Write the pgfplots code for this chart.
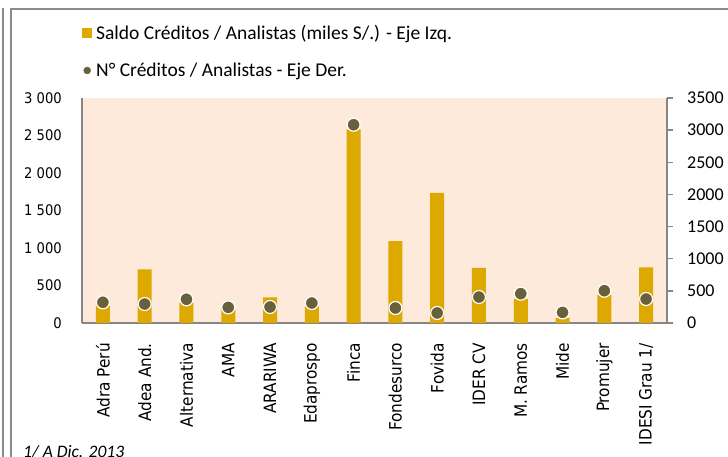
\documentclass[border=0pt]{standalone}
\usepackage{pgfplots}
\pgfplotsset{compat=1.18}
\usepackage{fontspec}
\setmainfont{Carlito}
\newfontfamily\dvc{DejaVu Sans Condensed}
\definecolor{barc}{RGB}{221,169,0}
\definecolor{dotc}{RGB}{103,96,59}
\definecolor{bgc}{RGB}{253,234,218}
\definecolor{axc}{RGB}{134,134,134}
\definecolor{frc}{RGB}{140,140,140}
\begin{document}
\begin{tikzpicture}[x=1pt,y=1pt]
\useasboundingbox (0,0) rectangle (728,457);
\begin{scope}
\clip (0,0) rectangle (728,457);
\draw[frc, line width=2pt] (3,-5) -- (3,449);
\draw[frc, line width=2pt] (11,-5) -- (11,448) -- (735,448);
\node[anchor=base west, inner sep=0pt, font=\bfseries\fontsize{20}{20}\selectfont] at (114,462) {p};
\node[anchor=base west, inner sep=0pt, font=\itshape\fontsize{17.5}{17.5}\selectfont] at (23,-1) {1/ A Dic. 2013};
\end{scope}

\begin{axis}[
 at={(82pt,134pt)}, anchor=south west,
 scale only axis, width=585pt, height=225pt,
 xmin=-0.5, xmax=13.5, ymin=0, ymax=3000,
 axis x line*=bottom, axis y line*=left,
 axis line style={axc, line width=2pt, -},
 axis background/.style={fill=bgc},
 xtick={0,...,13},
 xticklabels={Adra Perú, Adea And., Alternativa, AMA, ARARIWA, Edaprospo, Finca, Fondesurco, Fovida, IDER CV, M. Ramos, Mide, Promujer, IDESI Grau 1/},
 xticklabel style={rotate=90, anchor=east, font=\dvc\fontsize{17}{17}\selectfont, inner sep=0pt},
 xticklabel shift=20pt,
 major tick length=0pt,
 ytick={0,500,...,3000},
 yticklabel style={font=\dvc\fontsize{14.6}{14.6}\selectfont, inner sep=0pt,
   /pgf/number format/1000 sep={\ }, /pgf/number format/assume math mode=true},
 yticklabel shift=20pt,
 legend style={at={(0,1)}, anchor=north west, xshift=0pt, yshift=73pt,
   draw=none, fill=none, inner sep=0pt, row sep=22pt, column sep=4pt,
   font=\fontsize{19.5}{19.5}\selectfont, nodes={inner sep=0pt}},
 legend cell align=left,
]
\addplot[ybar, bar width=14pt, bar shift=0pt, fill=barc, draw=none,
  legend image code/.code={\fill[barc] (0pt,-5pt) rectangle (10pt,5pt);}]
  coordinates {(0,230) (1,715) (2,270) (3,180) (4,340) (5,220) (6,2580)
               (7,1090) (8,1735) (9,735) (10,320) (11,67) (12,370) (13,741)};
\addlegendentry{Saldo Créditos / Analistas (miles S/.) - Eje Izq.}
\addlegendimage{legend image code/.code={\fill[dotc] (5pt,0pt) circle (3.5pt);}}
\addlegendentry{N° Créditos / Analistas - Eje Der.}
\end{axis}

\begin{axis}[
 at={(82pt,134pt)}, anchor=south west,
 scale only axis, width=585pt, height=225pt,
 xmin=-0.5, xmax=13.5, ymin=0, ymax=3500,
 axis x line=none, axis y line*=right,
 axis line style={axc, line width=2pt, -},
 ytick={0,500,...,3500},
 tick align=outside, major tick length=6pt,
 ytick style={axc, line width=1.5pt},
 yticklabel style={font=\fontsize{18}{18}\selectfont, inner sep=0pt,
   /pgf/number format/1000 sep={}, /pgf/number format/assume math mode=true},
 yticklabel shift=14pt,
 clip=false,
]
\addplot[only marks, mark=*, mark size=6.5pt, mark options={fill=dotc, draw=white, line width=1.2pt}]
  coordinates {(0,322) (1,295) (2,369) (3,243) (4,249) (5,311) (6,3084)
               (7,233) (8,156) (9,404) (10,456) (11,165) (12,502) (13,373)};
\end{axis}
\end{tikzpicture}
\end{document}
